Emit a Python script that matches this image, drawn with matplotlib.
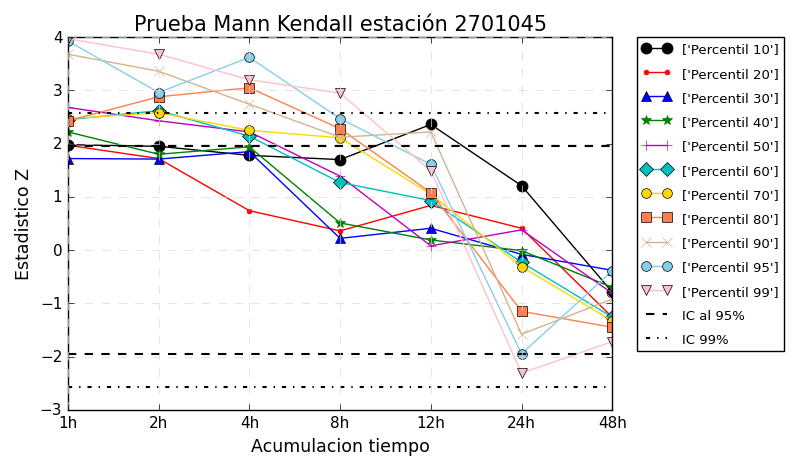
import matplotlib
matplotlib.use('Agg')
import matplotlib.pyplot as plt

plt.style.use('classic')

# categorias del eje x
acumulaciones = ['1h', '2h', '4h', '8h', '12h', '24h', '48h']

# estadistico Z por percentil
p10 = [1.98, 1.95, 1.78, 1.70, 2.36, 1.21, -0.79]
p20 = [1.97, 1.72, 0.74, 0.36, 0.84, 0.41, -1.26]
p30 = [1.72, 1.71, 1.85, 0.22, 0.41, -0.08, -0.38]
p40 = [2.22, 1.80, 1.94, 0.51, 0.19, -0.01, -0.70]
p50 = [2.68, 2.43, 2.22, 1.39, 0.08, 0.38, -0.81]
p60 = [2.45, 2.62, 2.14, 1.27, 0.93, -0.23, -1.26]
p70 = [2.47, 2.58, 2.25, 2.11, 1.05, -0.31, -1.33]
p80 = [2.43, 2.88, 3.05, 2.28, 1.08, -1.15, -1.45]
p90 = [3.68, 3.36, 2.74, 2.12, 2.22, -1.58, -0.92]
p95 = [3.93, 2.96, 3.62, 2.47, 1.61, -1.95, -0.39]
p99 = [3.97, 3.68, 3.20, 2.95, 1.49, -2.31, -1.72]

ic95 = 1.96
ic99 = 2.576

series = [
    ("['Percentil 10']", p10, 'k', 'o', 8),
    ("['Percentil 20']", p20, 'r', '.', 7),
    ("['Percentil 30']", p30, 'b', '^', 7),
    ("['Percentil 40']", p40, 'g', '*', 7),
    ("['Percentil 50']", p50, 'm', '+', 7),
    ("['Percentil 60']", p60, 'c', 'D', 7),
    ("['Percentil 70']", p70, 'gold', 'o', 7),
    ("['Percentil 80']", p80, 'coral', 's', 7),
    ("['Percentil 90']", p90, 'tan', 'x', 7),
    ("['Percentil 95']", p95, 'skyblue', 'o', 7),
    ("['Percentil 99']", p99, 'pink', 'v', 7),
]

fig = plt.figure(figsize=(7.9, 4.6), facecolor='white')
ax = fig.add_axes([0.086, 0.107, 0.689, 0.81])

x = list(range(len(acumulaciones)))
for label, vals, color, marker, ms in series:
    mec = 'k' if marker in ('o', '^', 'D', 's', 'v') else color
    ax.plot(x, vals, color=color, marker=marker, markersize=ms,
            markerfacecolor=color, markeredgecolor=mec, label=label)

ax.axhline(ic95, color='k', linestyle='--', linewidth=1.5, label='IC al 95%')
ax.axhline(-ic95, color='k', linestyle='--', linewidth=1.5)
ax.axhline(ic99, color='k', linestyle='-.', linewidth=1.5, label='IC 99%')
ax.axhline(-ic99, color='k', linestyle='-.', linewidth=1.5)

ax.set_xlim(0, 6)
ax.set_ylim(-3, 4)
ax.set_xticks(x)
ax.set_xticklabels(acumulaciones)
ax.grid(True, color='0.85', linestyle='--')
ax.set_title('Prueba Mann Kendall estación 2701045', fontsize=15)
ax.set_xlabel('Acumulacion tiempo', fontsize=12.5)
ax.set_ylabel('Estadistico Z', fontsize=12.5)
ax.tick_params(labelsize=11)

ax.legend(loc='upper left', bbox_to_anchor=(1.045, 1.0), fontsize=9.5,
          numpoints=2, handlelength=2.2, labelspacing=0.85, borderaxespad=0)

fig.savefig('out.png', dpi=100, facecolor='white')
